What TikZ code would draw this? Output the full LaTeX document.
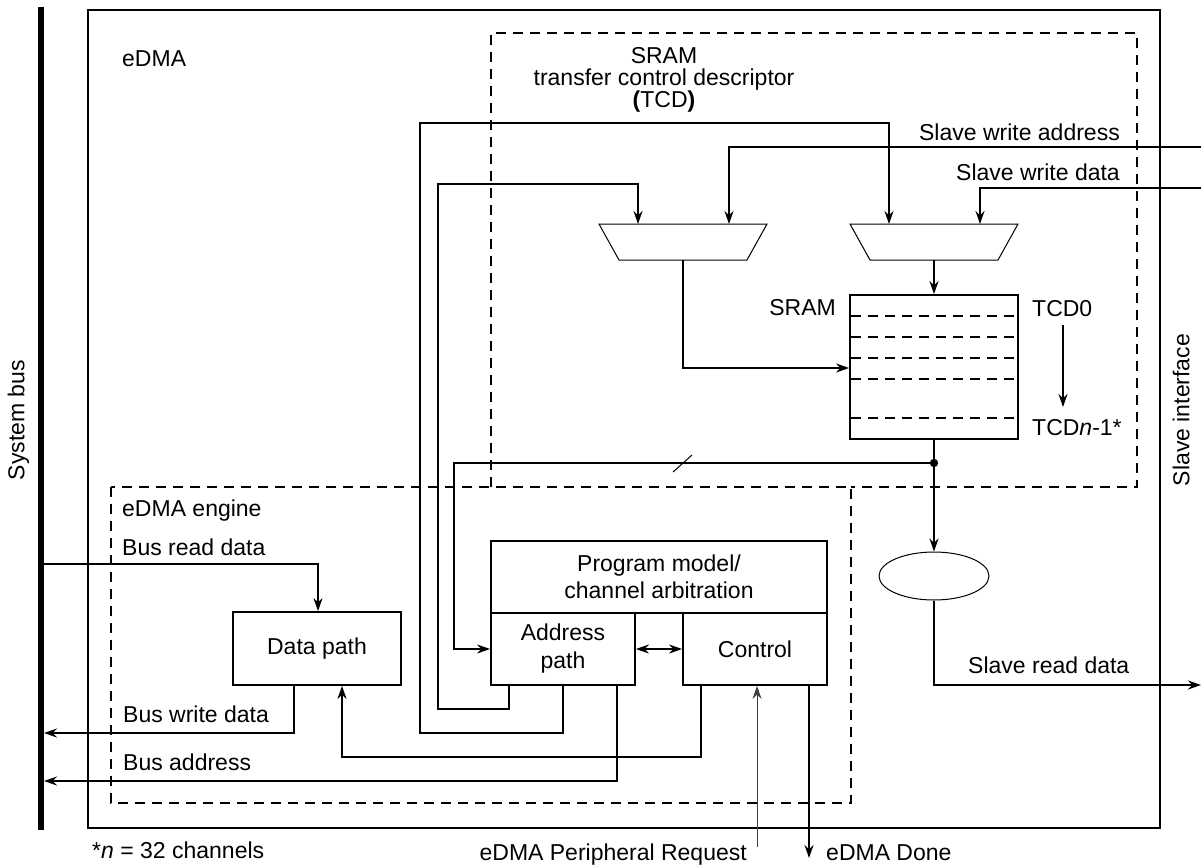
\documentclass[tikz,border=0pt]{standalone}
\usepackage{fontspec}
\setmainfont{Liberation Sans}
\usetikzlibrary{arrows.meta,shapes.geometric}
\begin{document}
\begin{tikzpicture}[x=1pt,y=-1pt,
  ln/.style={line width=1.8pt},
  arr/.style={line width=1.8pt,-{Stealth[length=13pt,width=9pt]}},
  darr/.style={line width=1.8pt,{Stealth[length=13pt,width=9pt]}-{Stealth[length=13pt,width=9pt]}},
  box/.style={draw,line width=1.8pt,inner sep=0pt,align=center,font=\fontsize{23}{27}\selectfont},
  dsh/.style={line width=1.8pt,dash pattern=on 10pt off 7pt},
  lbl/.style={inner sep=0pt,font=\fontsize{23}{25}\selectfont,text height=16.5pt,text depth=0pt},
  mux/.style={line width=1pt}]
\useasboundingbox (0,0) rectangle (1201,867);
% system bus
\fill (38,7) rectangle (44,830);
\node[lbl,rotate=90] (sysbus) at (16,420) {System bus};
% outer eDMA box
\draw[ln] (88,10) rectangle (1160,828);
\node[lbl,anchor=west] (edma) at (122,58) {eDMA};
% dashed regions
\draw[dsh] (491,487) -- (491,33) -- (1137,33) -- (1137,487) -- (851,487);
\draw[dsh] (111,487) rectangle (851,803);
\node[lbl,align=center,font=\fontsize{23}{22}\selectfont,text height=,text depth=] (tcdtitle) at (664,80) {SRAM\\transfer control descriptor\\{\bfseries(}TCD{\bfseries)}};
\node[lbl,anchor=west] (engine) at (122,508) {eDMA engine};
\node[lbl,rotate=90] (slif) at (1181,410) {Slave interface};
% muxes
\draw[mux] (599,224) -- (767,224) -- (747,260) -- (619,260) -- cycle;
\draw[mux] (850,224) -- (1018,224) -- (998,260) -- (870,260) -- cycle;
\coordinate (m1a) at (638,224);
\coordinate (m1b) at (729,224);
\coordinate (m1o) at (683,260);
\coordinate (m2a) at (889,224);
\coordinate (m2b) at (980,224);
\coordinate (m2o) at (934,260);
% SRAM
\node[box,minimum width=168pt,minimum height=144pt] (sram) at (934,367) {};
\foreach \yy in {316,337,358,379,418}
  \draw[line width=1.8pt,dash pattern=on 10pt off 7pt] (851,\yy) -- (1017,\yy);
\node[lbl,anchor=east] (sramlbl) at (836,307) {SRAM};
\node[lbl,anchor=west] (tcd0) at (1032,308) {TCD0};
\node[lbl,anchor=west] (tcdn) at (1032,427) {TCD\textit{n}-1*};
\coordinate (ta) at (1063,325);
\coordinate (tb) at (1063,407);
\draw[arr] (ta) -- (tb);
% slave write inputs
\coordinate (swa) at (1201,147);
\coordinate (swd) at (1201,188);
\node[lbl,anchor=east] (swalbl) at (1120,132) {Slave write address};
\node[lbl,anchor=east] (swdlbl) at (1120,172) {Slave write data};
\draw[arr] (swa) -| (m1b);
\draw[arr] (swd) -| (m2b);
\draw[arr] (m2o) -- (sram.north);
\draw[arr] (m1o) |- (sram.west |- 0,368);
% engine boxes
\node[box,minimum width=336pt,minimum height=72pt] (prog) at (659,577) {Program model/\\channel arbitration};
\node[box,minimum width=144pt,minimum height=72pt,font=\fontsize{23}{28}\selectfont] (addr) at (563,649) {Address\\path};
\node[box,minimum width=144pt,minimum height=72pt] (ctrl) at (755,649) {Control};
\node[box,minimum width=168pt,minimum height=73pt] (dp) at (317,648.5) {Data path};
\draw[darr] (addr.east) -- (ctrl.west);
% feedback loops to muxes
\draw[arr] (addr.south -| 563,0) -- (563,733) -- (420,733) -- (420,123) -| (m2a);
\draw[arr] (addr.south -| 509,0) -- (509,709) -- (438,709) -- (438,184) -| (m1a);
% SRAM output
\coordinate (junc) at (934,463);
\node[draw,ellipse,line width=1pt,minimum width=110pt,minimum height=48pt,inner sep=0pt] (ell) at (934,576) {};
\draw[arr] (sram.south) -- (ell.north);
\fill (junc) circle (4.2pt);
\draw[arr] (junc) -- (454,463) |- (addr.west);
\draw[line width=1pt] (673,472) -- (692,455);
% slave read data
\coordinate (srd) at (1201,685);
\draw[arr] (ell.south) |- (srd);
\node[lbl,anchor=west] (srdlbl) at (968,665) {Slave read data};
% bus connections
\coordinate (busr) at (44,564);
\coordinate (busw) at (44,733);
\coordinate (busa) at (44,781);
\node[lbl,anchor=west] (brdl) at (122,547) {Bus read data};
\node[lbl,anchor=west] (bwdl) at (123,714) {Bus write data};
\node[lbl,anchor=west] (badl) at (123,762) {Bus address};
\draw[arr] (busr) -| (dp.north -| 318,0);
\draw[arr] (dp.south -| 294,0) |- (busw);
\draw[arr] (addr.south -| 617,0) |- (busa);
\draw[arr] (ctrl.south -| 701,0) -- (701,757) -| (dp.south -| 342,0);
% peripheral request / done
\coordinate (preq) at (757,847);
\coordinate (done) at (809,858);
\draw[line width=1pt,black!75,-{Stealth[length=13pt,width=9pt]}] (preq) -- (ctrl.south -| preq);
\draw[arr] (ctrl.south -| done) -- (done);
\node[lbl,anchor=east] (preql) at (747,852) {eDMA Peripheral Request};
\node[lbl,anchor=west] (donel) at (826,852) {eDMA Done};
\node[lbl,anchor=west] (foot) at (92,850) {*\textit{n} = 32 channels};
\end{tikzpicture}
\end{document}
